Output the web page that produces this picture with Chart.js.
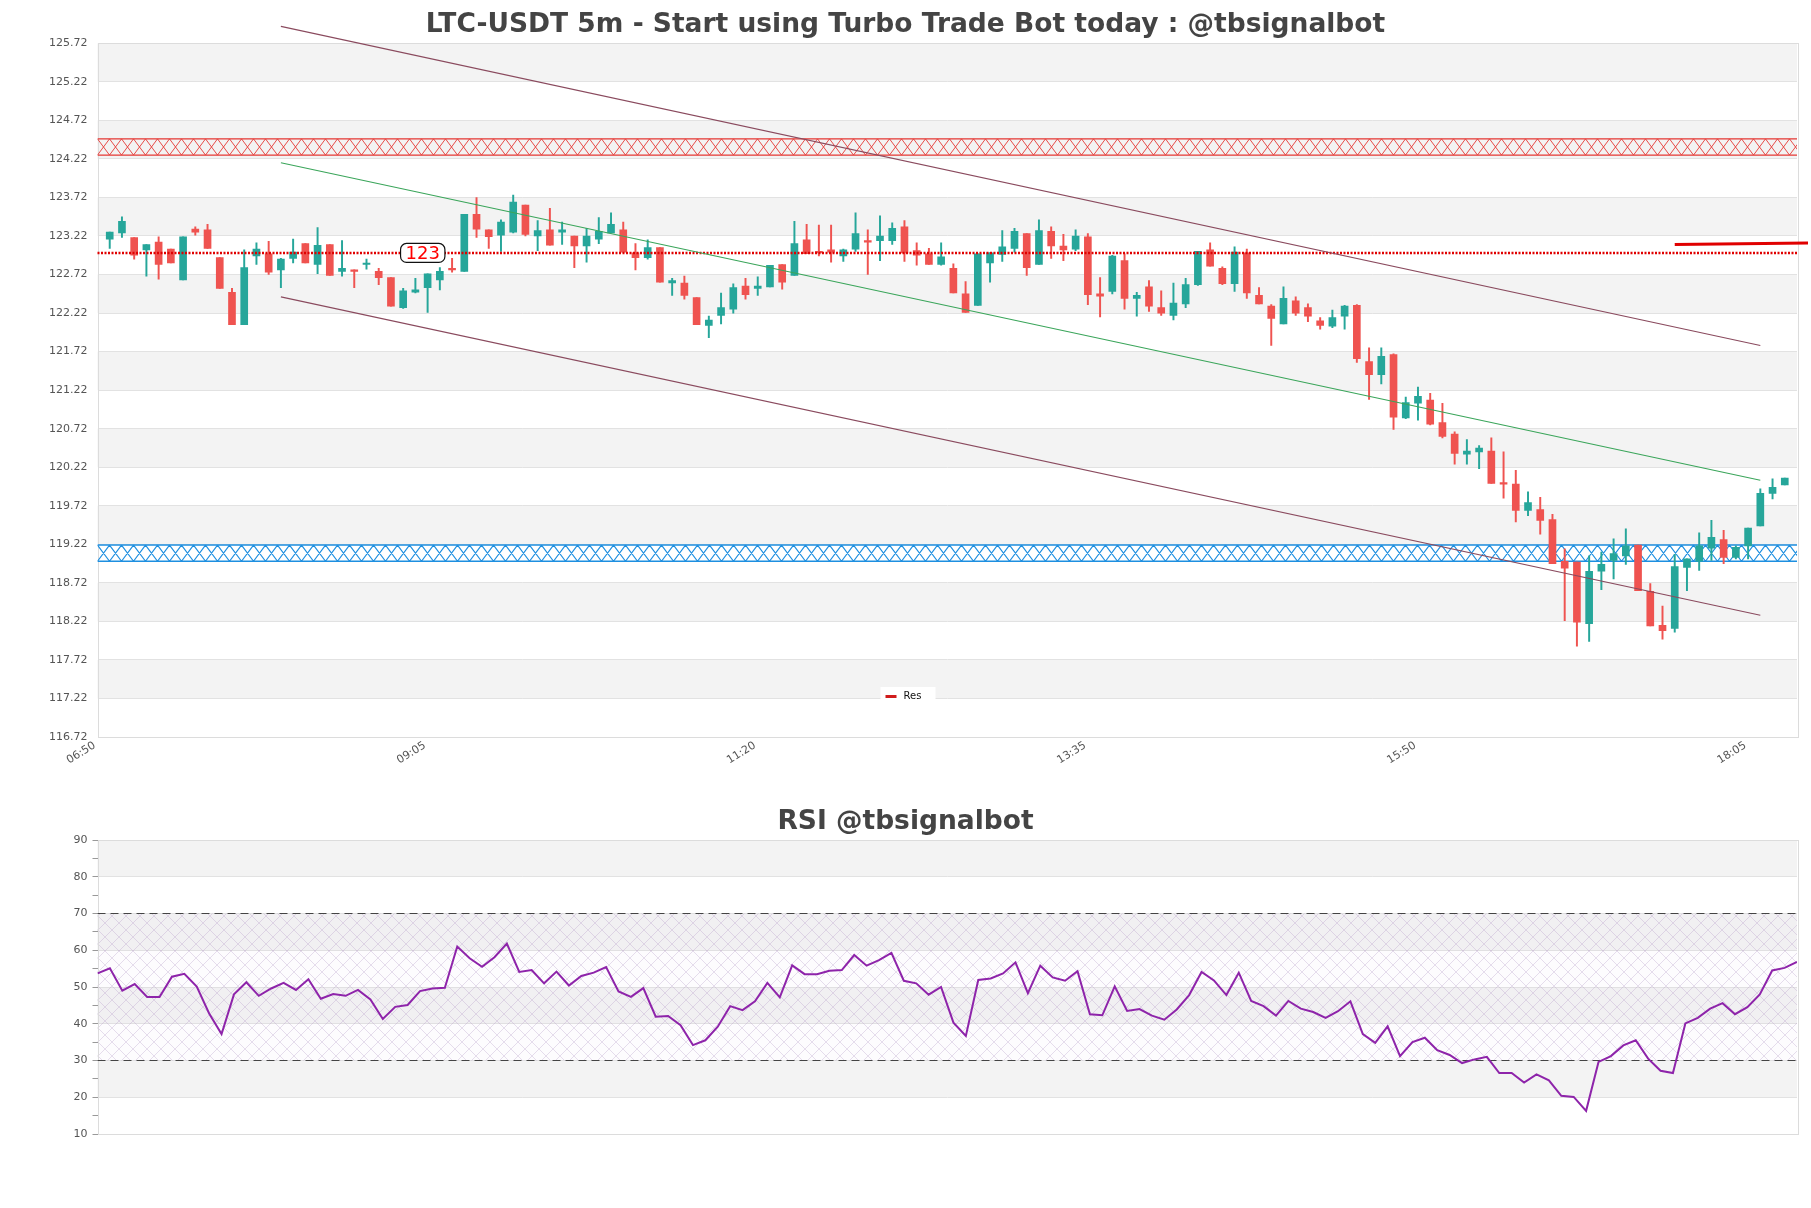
<!DOCTYPE html>
<html><head><meta charset="utf-8">
<script src="https://cdn.jsdelivr.net/npm/chart.js@4.4.0/dist/chart.umd.min.js"></script>
<style>
html,body{margin:0;padding:0;background:#fff;width:1811px;height:1208px;overflow:hidden}
#c1{position:absolute;left:0;top:0}
#c2{position:absolute;left:0;top:790px}
</style></head><body>
<canvas id="c1" width="1811" height="800"></canvas>
<canvas id="c2" width="1811" height="418"></canvas>
<script>
// ---------- DATA ----------
const tickIdx    = [0, 27, 54, 81, 108, 135];
const tickLabels = ['06:50', '09:05', '11:20', '13:35', '15:50', '18:05'];
const priceTicks = [116.72,117.22,117.72,118.22,118.72,119.22,119.72,120.22,120.72,121.22,121.72,122.22,122.72,123.22,123.72,124.22,124.72,125.22,125.72];

const opens = [123.18,123.26,123.20,123.04,123.14,123.05,122.65,123.31,123.30,122.94,
  122.49,122.07,122.96,122.99,122.78,122.93,123.12,122.85,123.11,122.76,
  122.78,122.85,122.76,122.68,122.29,122.49,122.55,122.65,122.80,122.76,
  123.50,123.30,123.23,123.27,123.62,123.22,123.30,123.27,123.22,123.09,
  123.18,123.26,123.30,123.00,122.94,123.07,122.61,122.61,122.42,122.06,
  122.19,122.27,122.57,122.54,122.56,122.85,122.71,123.17,123.01,123.04,
  122.96,123.05,123.15,123.16,123.16,123.34,123.03,122.99,122.85,122.80,
  122.47,122.32,122.87,122.98,123.06,123.25,122.85,123.28,123.09,123.05,
  123.21,122.47,122.50,122.90,122.41,122.56,122.29,122.19,122.34,122.59,
  123.04,122.80,122.60,123.00,122.45,122.31,122.08,122.38,122.29,122.12,
  122.05,122.18,122.32,121.59,121.42,121.68,120.86,121.05,121.09,120.80,
  120.65,120.39,120.42,120.43,120.01,120.00,119.66,119.67,119.54,119.00,
  118.99,118.19,118.87,119.01,119.07,119.21,118.61,118.17,118.13,118.92,
  119.00,119.17,119.28,119.05,119.20,119.46,119.88,119.99];
const highs = [123.27,123.47,123.20,123.11,123.21,123.05,123.21,123.34,123.37,122.94,
  122.54,123.04,123.13,123.15,122.93,123.18,123.12,123.33,123.11,123.16,
  122.78,122.92,122.80,122.68,122.54,122.67,122.73,122.81,122.93,123.50,
  123.72,123.30,123.43,123.75,123.62,123.42,123.58,123.40,123.22,123.32,
  123.46,123.52,123.40,123.12,123.17,123.07,122.67,122.70,122.42,122.18,
  122.48,122.60,122.67,122.69,122.84,122.85,123.41,123.37,123.36,123.36,
  123.05,123.52,123.30,123.48,123.39,123.42,123.13,123.06,123.13,122.86,
  122.63,122.99,123.00,123.29,123.32,123.25,123.43,123.34,123.24,123.30,
  123.25,122.68,122.97,122.99,122.49,122.64,122.51,122.61,122.67,123.02,
  123.13,122.82,123.08,123.05,122.55,122.33,122.56,122.43,122.34,122.16,
  122.26,122.32,122.33,121.77,121.77,121.69,121.13,121.26,121.18,121.05,
  120.68,120.58,120.50,120.60,120.42,120.18,119.90,119.83,119.61,119.16,
  118.99,119.07,119.12,119.29,119.42,119.21,118.71,118.42,119.09,119.03,
  119.37,119.53,119.40,119.20,119.43,119.94,120.07,120.08];
const lows = [123.06,123.20,122.92,122.70,122.66,122.87,122.65,123.23,123.06,122.54,
  122.07,122.07,122.85,122.72,122.55,122.87,122.87,122.73,122.71,122.70,
  122.55,122.79,122.59,122.31,122.28,122.48,122.23,122.52,122.75,122.76,
  123.20,123.06,123.02,123.26,123.22,123.03,123.10,123.11,122.81,122.88,
  123.12,123.26,123.01,122.78,122.92,122.62,122.45,122.40,122.07,121.90,
  122.08,122.22,122.40,122.45,122.56,122.53,122.71,122.99,122.96,122.88,
  122.89,123.02,122.72,122.90,123.11,122.89,122.84,122.85,122.84,122.48,
  122.23,122.32,122.62,122.89,123.01,122.71,122.85,122.93,122.90,123.03,
  122.33,122.17,122.47,122.27,122.18,122.24,122.19,122.13,122.29,122.58,
  122.83,122.59,122.50,122.41,122.34,121.80,122.08,122.19,122.11,122.01,
  122.03,122.01,121.58,121.10,121.30,120.71,120.85,120.83,120.77,120.60,
  120.26,120.26,120.20,120.01,119.82,119.51,119.59,119.35,118.97,118.23,
  117.90,117.96,118.63,118.77,118.96,118.62,118.16,117.99,118.08,118.62,
  118.88,119.01,118.97,119.03,119.03,119.46,119.81,119.99];
const closes = [123.27,123.41,122.97,123.11,122.85,122.87,123.21,123.27,123.06,122.54,
  122.07,122.81,123.05,122.75,122.92,123.01,122.87,123.10,122.71,122.80,
  122.76,122.86,122.68,122.31,122.51,122.52,122.73,122.76,122.78,123.50,
  123.31,123.21,123.40,123.66,123.24,123.29,123.10,123.30,123.09,123.22,
  123.28,123.37,123.01,122.94,123.07,122.62,122.64,122.45,122.07,122.13,
  122.29,122.55,122.46,122.57,122.84,122.62,123.12,122.99,123.00,123.01,
  123.04,123.25,123.14,123.22,123.32,123.00,122.97,122.85,122.95,122.48,
  122.23,122.99,123.00,123.08,123.28,122.81,123.29,123.09,123.04,123.22,
  122.46,122.44,122.96,122.41,122.45,122.31,122.22,122.35,122.59,123.02,
  122.83,122.60,123.01,122.48,122.34,122.15,122.41,122.22,122.18,122.06,
  122.16,122.31,121.63,121.42,121.66,120.87,121.06,121.14,120.78,120.62,
  120.40,120.43,120.47,120.01,120.00,119.66,119.76,119.53,118.97,118.91,
  118.21,118.87,118.96,119.10,119.20,118.62,118.16,118.10,118.93,119.03,
  119.20,119.31,119.05,119.18,119.43,119.88,119.96,120.08];

const rsi = [53.7,55.1,49.0,50.8,47.3,47.3,52.8,53.6,50.1,42.8,
  37.2,48.0,51.3,47.6,49.6,51.1,49.2,52.1,46.8,48.1,
  47.6,49.2,46.6,41.3,44.6,45.1,48.9,49.6,49.8,61.0,
  57.8,55.5,58.1,61.8,54.1,54.6,51.0,54.2,50.4,53.0,
  53.9,55.4,48.8,47.3,49.7,41.9,42.1,39.6,34.2,35.5,
  39.2,44.8,43.7,46.1,51.1,47.2,55.9,53.5,53.5,54.4,
  54.6,58.7,55.8,57.3,59.3,51.7,51.0,47.9,50.0,40.3,
  36.7,51.9,52.3,53.7,56.7,48.3,55.8,52.6,51.7,54.3,
  42.6,42.3,50.2,43.5,44.0,42.2,41.1,43.9,47.8,54.1,
  51.8,47.8,53.9,46.2,44.8,42.2,46.2,44.1,43.2,41.6,
  43.4,46.1,37.2,34.8,39.3,31.2,35.0,36.2,32.8,31.5,
  29.3,30.3,31.0,26.6,26.6,24.0,26.2,24.6,20.4,20.1,
  16.3,29.6,31.2,34.1,35.5,30.5,27.2,26.6,40.1,41.6,
  44.1,45.6,42.6,44.5,48.0,54.5,55.2,56.8];
const rsiTicks = [10,20,30,40,50,60,70,80,90];

const channelX   = [14, 135];
const upperLine  = [125.94, 121.80];
const middleLine = [124.17, 120.05];
const lowerLine  = [122.43, 118.30];
const resLevel   = 123.0;
const resText    = '123';
const resistZone = [124.27, 124.48];
const supportZone = [119.00, 119.21];
const markX = [128, 138.9];
const markY = [123.11, 123.13];
const rsiLevels = [30, 70];

const titleMain = 'LTC-USDT 5m - Start using Turbo Trade Bot today : @tbsignalbot';
const titleRsi  = 'RSI @tbsignalbot';

// ---------- STYLE ----------
const UP = '#26a69a', DOWN = '#ef5350';
const FONT = '"DejaVu Sans", "Liberation Sans", sans-serif';
Chart.defaults.font.family = FONT;
Chart.defaults.animation = false;

const idx = opens.map((_, i) => i);
const candleColors = idx.map(i => closes[i] >= opens[i] ? UP : DOWN);

function zoneDraw(ctx, a, y, lo, hi, color, lw) {
  const top = y.getPixelForValue(hi), bot = y.getPixelForValue(lo);
  const tw = 12;
  ctx.save();
  ctx.beginPath(); ctx.rect(a.left, top - 1, a.right - a.left, bot - top + 2); ctx.clip();
  ctx.strokeStyle = color; ctx.lineWidth = lw;
  ctx.beginPath();
  for (let x = a.left; x < a.right + tw; x += tw) {
    ctx.moveTo(x, top); ctx.lineTo(x + tw, bot);
    ctx.moveTo(x + tw, top); ctx.lineTo(x, bot);
  }
  ctx.stroke();
  ctx.lineWidth = lw + 0.3;
  ctx.beginPath();
  ctx.moveTo(a.left, top); ctx.lineTo(a.right, top);
  ctx.moveTo(a.left, bot); ctx.lineTo(a.right, bot);
  ctx.stroke();
  ctx.restore();
}

function bands(chart, ticks) {
  const {ctx, chartArea: a, scales: {y}} = chart;
  ctx.save();
  ctx.fillStyle = '#fff';
  ctx.fillRect(0, 0, chart.width, chart.height);
  ctx.fillStyle = '#f3f3f3';
  for (let k = 1; k + 1 < ticks.length; k += 2) {
    const t = y.getPixelForValue(ticks[k + 1]), b = y.getPixelForValue(ticks[k]);
    ctx.fillRect(a.left, t, a.right - a.left, b - t);
  }
  ctx.restore();
}

function frame(chart) {
  const {ctx, chartArea: a} = chart;
  ctx.save();
  ctx.strokeStyle = '#dcdcdc'; ctx.lineWidth = 1;
  ctx.strokeRect(Math.round(a.left) + 0.5, Math.round(a.top) + 0.5, Math.round(a.right - a.left), Math.round(a.bottom - a.top));
  ctx.restore();
}

const pricePanel = {
  id: 'pricePanel',
  beforeDraw(chart) { bands(chart, priceTicks); },
  beforeDatasetsDraw(chart) {
    const {ctx, chartArea: a, scales: {y}} = chart;
    frame(chart);
    zoneDraw(ctx, a, y, resistZone[0], resistZone[1], '#e53935', 0.9);
    zoneDraw(ctx, a, y, supportZone[0], supportZone[1], '#1e8fe0', 1.2);
  },
  afterDraw(chart) {
    const {ctx, chartArea: a, scales: {x, y}} = chart;
    const cx = x.getPixelForValue(25.6), cy = y.getPixelForValue(resLevel);
    ctx.save();
    ctx.font = '18px ' + FONT;
    const w = ctx.measureText(resText).width + 10, h = 19, r = 6;
    const l = cx - w / 2, t = cy - h / 2;
    ctx.beginPath();
    ctx.moveTo(l + r, t); ctx.lineTo(l + w - r, t); ctx.arcTo(l + w, t, l + w, t + r, r);
    ctx.lineTo(l + w, t + h - r); ctx.arcTo(l + w, t + h, l + w - r, t + h, r);
    ctx.lineTo(l + r, t + h); ctx.arcTo(l, t + h, l, t + h - r, r);
    ctx.lineTo(l, t + r); ctx.arcTo(l, t, l + r, t, r); ctx.closePath();
    ctx.fillStyle = '#fff'; ctx.fill();
    ctx.strokeStyle = '#111'; ctx.lineWidth = 1.2; ctx.stroke();
    ctx.fillStyle = '#ff0000'; ctx.textAlign = 'center'; ctx.textBaseline = 'middle';
    ctx.fillText(resText, cx, cy + 1);
    // legend
    const lx = chart.width / 2 + 2, ly = a.bottom - 42;
    ctx.fillStyle = '#fff';
    ctx.fillRect(lx - 27, ly - 8, 55, 17);
    ctx.fillStyle = '#d01c1c';
    ctx.fillRect(lx - 22, ly, 11, 3);
    ctx.font = '10px ' + FONT; ctx.fillStyle = '#111'; ctx.textAlign = 'left';
    ctx.fillText('Res', lx - 4, ly + 1);
    ctx.restore();
  }
};

const lineDs = (xs, ys, color, width, extra) => Object.assign({
  type: 'line',
  data: xs.map((v, i) => ({x: v, y: ys[i]})),
  borderColor: color, borderWidth: width, pointRadius: 0, clip: false, order: -1
}, extra || {});

new Chart(document.getElementById('c1'), {
  type: 'bar',
  data: {
    datasets: [
      { label: 'body', data: idx.map(i => ({x: i, y: [opens[i], closes[i]]})),
        backgroundColor: candleColors, barThickness: 7, minBarLength: 1.5, grouped: false, order: 1 },
      { label: 'wick', data: idx.map(i => ({x: i, y: [lows[i], highs[i]]})),
        backgroundColor: candleColors, barThickness: 1.3, grouped: false, order: 2 },
      lineDs([-1, 138], [resLevel, resLevel], '#e00000', 2.5, {label: 'Res', borderDash: [2, 1.5], order: 0}),
      lineDs(channelX, upperLine, '#8a4a5e', 1.1),
      lineDs(channelX, lowerLine, '#8a4a5e', 1.1),
      lineDs(channelX, middleLine, '#3aa55a', 1.1),
      lineDs(markX, markY, '#e00000', 3)
    ]
  },
  options: {
    responsive: false,
    layout: { padding: { left: 14, right: 14, top: 0, bottom: 0 } },
    plugins: {
      legend: { display: false },
      tooltip: { enabled: false },
      title: { display: true, text: titleMain, color: '#444',
        font: { size: 26.5, weight: 'bold', family: FONT }, padding: { top: 9, bottom: 2.5 } }
    },
    scales: {
      x: { type: 'linear', min: -1, max: 138, offset: false,
        grid: { display: false, offset: false, drawTicks: false }, border: { display: false },
        afterBuildTicks: s => { s.ticks = tickIdx.map(v => ({value: v})); },
        afterFit: s => { s.height = 63; },
        ticks: { autoSkip: false, maxRotation: 32, minRotation: 32, color: '#555', font: { size: 11 },
          padding: 2, labelOffset: -15,
          callback: v => tickLabels[tickIdx.indexOf(v)] } },
      y: { min: 116.72, max: 125.72,
        afterBuildTicks: s => { s.ticks = priceTicks.map(v => ({value: v})); },
        afterFit: s => { s.width = 83.5; },
        grid: { color: '#e2e2e2', drawTicks: false }, border: { display: false },
        ticks: { padding: 10, color: '#555', font: { size: 11 }, callback: v => v.toFixed(2) } }
    }
  },
  plugins: [pricePanel]
});

// ---------- RSI ----------
function hatchPattern(ctx) {
  const c = document.createElement('canvas'); c.width = 14; c.height = 14;
  const g = c.getContext('2d');
  g.strokeStyle = 'rgba(175,145,195,0.38)'; g.lineWidth = 0.8;
  g.beginPath(); g.moveTo(0, 0); g.lineTo(14, 14); g.moveTo(14, 0); g.lineTo(0, 14); g.stroke();
  return ctx.createPattern(c, 'repeat');
}

const rsiPanel = {
  id: 'rsiPanel',
  beforeDraw(chart) { bands(chart, rsiTicks); },
  beforeDatasetsDraw(chart) {
    const {ctx, chartArea: a, scales: {y}} = chart;
    const t = y.getPixelForValue(rsiLevels[1]), b = y.getPixelForValue(rsiLevels[0]);
    ctx.save();
    ctx.fillStyle = 'rgba(215,190,230,0.05)';
    ctx.fillRect(a.left, t, a.right - a.left, b - t);
    ctx.fillStyle = hatchPattern(ctx);
    ctx.fillRect(a.left, t, a.right - a.left, b - t);
    ctx.restore();
    frame(chart);
  }
};

new Chart(document.getElementById('c2'), {
  type: 'line',
  data: {
    datasets: [
      { label: 'RSI', data: rsi.map((v, j) => ({x: j, y: v})), borderColor: '#8e24aa',
        borderWidth: 2, pointRadius: 0, tension: 0, order: 0 },
      { data: [{x: 0, y: rsiLevels[1]}, {x: rsi.length - 1, y: rsiLevels[1]}], borderColor: '#444',
        borderWidth: 1.2, borderDash: [8, 5], pointRadius: 0, order: 1 },
      { data: [{x: 0, y: rsiLevels[0]}, {x: rsi.length - 1, y: rsiLevels[0]}], borderColor: '#444',
        borderWidth: 1.2, borderDash: [8, 5], pointRadius: 0, order: 1 }
    ]
  },
  options: {
    responsive: false,
    layout: { padding: { left: 14, right: 14, top: 0, bottom: 74 } },
    plugins: {
      legend: { display: false },
      tooltip: { enabled: false },
      title: { display: true, text: titleRsi, color: '#444',
        font: { size: 26.5, weight: 'bold', family: FONT }, padding: { top: 16, bottom: 2.2 } }
    },
    scales: {
      x: { type: 'linear', min: 0, max: rsi.length - 1, display: false },
      y: { min: 10, max: 90,
        afterFit: s => { s.width = 83.5; },
        grid: { color: c => (c.tick && c.tick.value % 10 === 0) ? '#e2e2e2' : 'rgba(0,0,0,0)',
          tickColor: '#999', tickLength: 5 },
        border: { display: false },
        ticks: { stepSize: 5, padding: 5, color: '#555', font: { size: 11 },
          callback: v => (v % 10 === 0 ? v : '') } }
    }
  },
  plugins: [rsiPanel]
});
</script></body></html>
